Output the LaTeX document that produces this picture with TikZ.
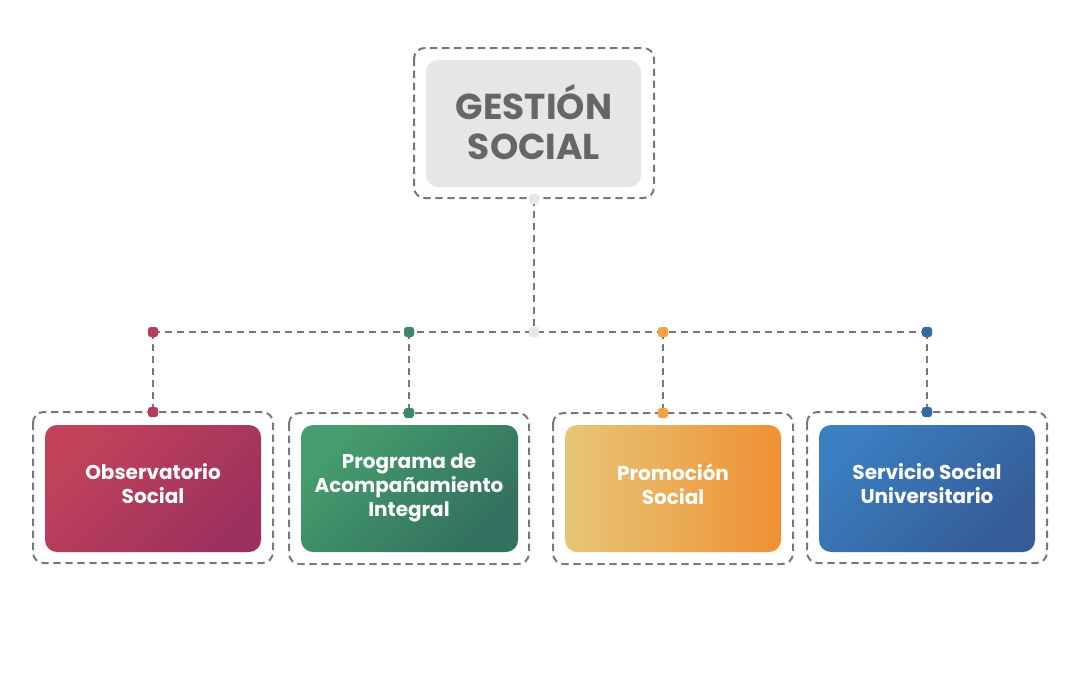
\documentclass[tikz,border=0pt]{standalone}
\usepackage{fontspec}
\setmainfont{Poppins}
\begin{document}
\begin{tikzpicture}[x=0.75pt,y=-0.75pt,
  dline/.style={draw=black!53, line width=1.5pt, dash pattern=on 5.5pt off 3.5pt},
  outerbox/.style={dline, rounded corners=8pt},
  dot/.style={minimum size=7.5pt, inner sep=0pt, rounded corners=2pt, fill=#1},
  cardbox/.style={rounded corners=9pt, draw=none},
  cardtext/.style={text=white, font=\bfseries\fontsize{15}{18}\selectfont, align=center}
]
\definecolor{gbox}{HTML}{E6E6E6}
\definecolor{gtext}{HTML}{666666}
\definecolor{redA}{HTML}{C2425A}
\definecolor{redB}{HTML}{9C315E}
\definecolor{grnA}{HTML}{469D6D}
\definecolor{grnB}{HTML}{32705F}
\definecolor{orA}{HTML}{E6C676}
\definecolor{orB}{HTML}{F09033}
\definecolor{bluA}{HTML}{3B7EC1}
\definecolor{bluB}{HTML}{355C96}
\definecolor{redD}{HTML}{B63A5A}
\definecolor{grnD}{HTML}{3C8766}
\definecolor{orD}{HTML}{EEA440}
\definecolor{bluD}{HTML}{3368A8}

\useasboundingbox (0,0) rectangle (1080,675);
\fill[white] (0,0) rectangle (1080,675);

% top
\draw[outerbox] (414,48) rectangle (654,198);
\fill[gbox, rounded corners=9pt] (426,60) rectangle (641,187);
\node[text=gtext, font=\bfseries\fontsize{27}{30}\selectfont, align=center] (title) at (534,122) {GESTIÓN\\SOCIAL};

% bottom outer boxes
\draw[outerbox] (33,412) rectangle (273,563);
\draw[outerbox] (289,413) rectangle (529,564);
\draw[outerbox] (553,413) rectangle (793,564);
\draw[outerbox] (807,412) rectangle (1047,563);

% cards
\shade[cardbox, top color=redA, bottom color=redB, shading angle=45] (45,425) rectangle (261,552);
\shade[cardbox, top color=grnA, bottom color=grnB, shading angle=45] (301,425) rectangle (518,552);
\shade[cardbox, left color=orA, right color=orB] (565,425) rectangle (781,552);
\shade[cardbox, top color=bluA, bottom color=bluB, shading angle=45] (819,425) rectangle (1035,552);

\node[cardtext] (c1) at (153,484) {Observatorio\\Social};
\node[cardtext] (c2) at (409,488) {Programa de\\Acompañamiento\\Integral};
\node[cardtext] (c3) at (673,484) {Promoción\\Social};
\node[cardtext] (c4) at (927,484) {Servicio Social\\Universitario};

% connector points
\coordinate (tcp) at (534,199);
\coordinate (ccp) at (534,332);
\coordinate (a1) at (153,332);
\coordinate (a2) at (409,332);
\coordinate (a3) at (663,332);
\coordinate (a4) at (927,332);
\coordinate (b1) at (153,412);
\coordinate (b2) at (409,413);
\coordinate (b3) at (663,413);
\coordinate (b4) at (927,412);

\draw[dline] (tcp) -- (ccp);
\draw[dline] (a1) -- (a4);
\foreach \i in {1,2,3,4} \draw[dline] (a\i) -- (b\i);

\node[dot=gbox] (tc) at (tcp) {};
\node[dot=gbox] (cc) at (ccp) {};
\node[dot=redD] (p1) at (a1) {};
\node[dot=grnD] (p2) at (a2) {};
\node[dot=orD] (p3) at (a3) {};
\node[dot=bluD] (p4) at (a4) {};
\node[dot=redD] (q1) at (b1) {};
\node[dot=grnD] (q2) at (b2) {};
\node[dot=orD] (q3) at (b3) {};
\node[dot=bluD] (q4) at (b4) {};
\end{tikzpicture}
\end{document}
